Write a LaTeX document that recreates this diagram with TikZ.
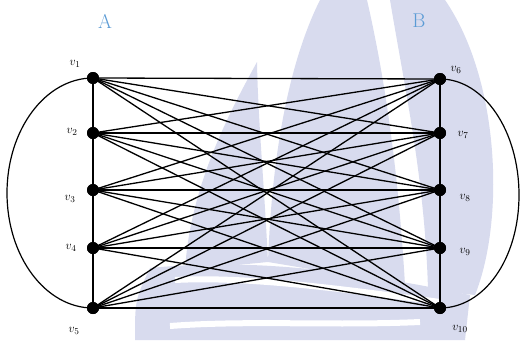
\documentclass[tikz,border=0pt]{standalone}
\definecolor{wm}{RGB}{216,219,238}
\definecolor{setblue}{RGB}{91,155,213}
\begin{document}
\begin{tikzpicture}[x=1pt,y=-1pt,
  vert/.style={circle,fill=black,inner sep=0pt,minimum size=12pt},
  edge/.style={line width=1.3pt},
  vlab/.style={font=\fontsize{13}{15}\selectfont,inner sep=0pt},
  setlab/.style={font=\fontsize{20}{24}\selectfont,text=setblue,inner sep=0pt}]
\useasboundingbox (0,0) rectangle (521,340);
% watermark
\fill[wm] (257,62) .. controls (225,120) and (190,190) .. (185,270) -- (268,262) .. controls (264,180) and (258,120) .. (257,62) -- cycle;
\fill[wm] (320,0) .. controls (290,60) and (272,150) .. (268,262) -- (405,285) .. controls (400,200) and (390,100) .. (367,0) -- cycle;
\fill[wm] (390,0) .. controls (405,90) and (425,180) .. (428,290) -- (475,295) .. controls (505,220) and (500,80) .. (445,0) -- cycle;
\fill[wm] (150,268) .. controls (250,258) and (350,270) .. (470,295) -- (465,340) -- (135,340) .. controls (135,300) .. (150,268) -- cycle;
\draw[white,line width=6pt] (175,280) .. controls (250,276) and (350,290) .. (440,302);
\draw[white,line width=6pt] (170,326) .. controls (250,320) and (330,326) .. (420,322);
% vertices
\node[vert] (v1) at (93,78) {};
\node[vert] (v2) at (93,133) {};
\node[vert] (v3) at (93,190) {};
\node[vert] (v4) at (93,248) {};
\node[vert] (v5) at (93,308) {};
\node[vert] (v6) at (440,79) {};
\node[vert] (v7) at (440,133) {};
\node[vert] (v8) at (440,190) {};
\node[vert] (v9) at (440,248) {};
\node[vert] (v10) at (440,308) {};
% complete bipartite edges
\foreach \i in {1,...,5}{
  \foreach \j in {6,...,10}{
    \draw[edge] (v\i.center) -- (v\j.center);
  }
}
% vertical paths
\draw[edge] (v1.center) -- (v2.center) -- (v3.center) -- (v4.center) -- (v5.center);
\draw[edge] (v6.center) -- (v7.center) -- (v8.center) -- (v9.center) -- (v10.center);
% outer arcs
\draw[edge,line width=1.2pt] (v1.center) .. controls (45.5,78) and (7,129.5) .. (7,193) .. controls (7,256.5) and (45.5,308) .. (v5.center);
\draw[edge,line width=1.2pt] (v6.center) .. controls (484,79) and (519,131) .. (519,195) .. controls (519,259) and (484,308) .. (v10.center);
% redraw vertices on top
\foreach \k in {1,...,10}{ \fill (v\k) circle (6pt); }
% labels
\node[vlab] (l1) at (75,64) {$v_1$};
\node[vlab] (l2) at (72,132) {$v_2$};
\node[vlab] (l3) at (70,199) {$v_3$};
\node[vlab] (l4) at (71,248) {$v_4$};
\node[vlab] (l5) at (74,331) {$v_5$};
\node[vlab] (l6) at (456,70) {$v_6$};
\node[vlab] (l7) at (463,135) {$v_7$};
\node[vlab] (l8) at (465,198) {$v_8$};
\node[vlab] (l9) at (465,252) {$v_9$};
\node[vlab] (l10) at (460,329) {$v_{10}$};
\node[setlab] (A) at (105,21) {A};
\node[setlab] (B) at (419,21) {B};
\end{tikzpicture}
\end{document}
